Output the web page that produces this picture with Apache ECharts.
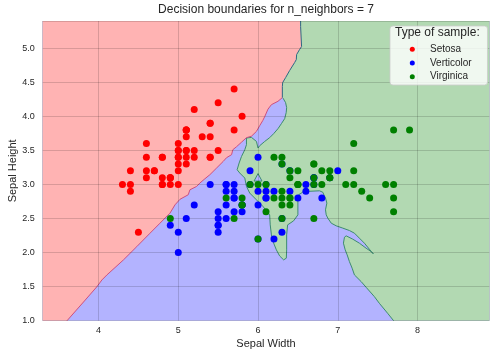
<!DOCTYPE html>
<html><head><meta charset="utf-8">
<script src="https://cdn.jsdelivr.net/npm/echarts@6/dist/echarts.min.js"></script>
<style>html,body{margin:0;padding:0;background:#fff}#c{width:495px;height:357px}</style>
</head><body><div id="c"></div>
<script>
// ---- data: iris sepal measurements [x = "Sepal Width" axis, y = "Sepal Height" axis]
const setosa = [[5.1,3.5],[4.9,3.0],[4.7,3.2],[4.6,3.1],[5.0,3.6],[5.4,3.9],[4.6,3.4],[5.0,3.4],[4.4,2.9],[4.9,3.1],[5.4,3.7],[4.8,3.4],[4.8,3.0],[4.3,3.0],[5.8,4.0],[5.7,4.4],[5.4,3.9],[5.1,3.5],[5.7,3.8],[5.1,3.8],[5.4,3.4],[5.1,3.7],[4.6,3.6],[5.1,3.3],[4.8,3.4],[5.0,3.0],[5.0,3.4],[5.2,3.5],[5.2,3.4],[4.7,3.2],[4.8,3.1],[5.4,3.4],[5.2,4.1],[5.5,4.2],[4.9,3.1],[5.0,3.2],[5.5,3.5],[4.9,3.1],[4.4,3.0],[5.1,3.4],[5.0,3.5],[4.5,2.3],[4.4,3.2],[5.0,3.5],[5.1,3.8],[4.8,3.0],[5.1,3.8],[4.6,3.2],[5.3,3.7],[5.0,3.3]];
const versicolor = [[7.0,3.2],[6.4,3.2],[6.9,3.1],[5.5,2.3],[6.5,2.8],[5.7,2.8],[6.3,3.3],[4.9,2.4],[6.6,2.9],[5.2,2.7],[5.0,2.0],[5.9,3.0],[6.0,2.2],[6.1,2.9],[5.6,2.9],[6.7,3.1],[5.6,3.0],[5.8,2.7],[6.2,2.2],[5.6,2.5],[5.9,3.2],[6.1,2.8],[6.3,2.5],[6.1,2.8],[6.4,2.9],[6.6,3.0],[6.8,2.8],[6.7,3.0],[6.0,2.9],[5.7,2.6],[5.5,2.4],[5.5,2.4],[5.8,2.7],[6.0,2.7],[5.4,3.0],[6.0,3.4],[6.7,3.1],[6.3,2.3],[5.6,3.0],[5.5,2.5],[5.5,2.6],[6.1,3.0],[5.8,2.6],[5.0,2.3],[5.6,2.7],[5.7,3.0],[5.7,2.9],[6.2,2.9],[5.1,2.5],[5.7,2.8]];
const virginica = [[6.3,3.3],[5.8,2.7],[7.1,3.0],[6.3,2.9],[6.5,3.0],[7.6,3.0],[4.9,2.5],[7.3,2.9],[6.7,2.5],[7.2,3.6],[6.5,3.2],[6.4,2.7],[6.8,3.0],[5.7,2.5],[5.8,2.8],[6.4,3.2],[6.5,3.0],[7.7,3.8],[7.7,2.6],[6.0,2.2],[6.9,3.2],[5.6,2.8],[7.7,2.8],[6.3,2.7],[6.7,3.3],[7.2,3.2],[6.2,2.8],[6.1,3.0],[6.4,2.8],[7.2,3.0],[7.4,2.8],[7.9,3.8],[6.4,2.8],[6.3,2.8],[6.1,2.6],[7.7,3.0],[6.3,3.4],[6.4,3.1],[6.0,3.0],[6.9,3.1],[6.7,3.1],[6.9,3.1],[5.8,2.7],[6.8,3.2],[6.7,3.3],[6.7,3.0],[6.3,2.5],[6.5,3.0],[6.2,3.4],[5.9,3.0]];

// ---- axis ranges / ticks
const xRange = [3.3, 8.9];
const yRange = [1.0, 5.4];
const yStep = 0.5;
const classNames = ['Setosa', 'Verticolor', 'Virginica'];

// ---- decision boundaries (traced in data units)
const redGreenBoundary = [[6.534,5.4],[6.534,5.319],[6.546,5.025],[6.521,4.981],[6.484,4.907],[6.48,4.834],[6.459,4.79],[6.396,4.672],[6.346,4.569],[6.309,4.496],[6.305,4.437],[6.305,4.275]];
const redBlueBoundary = [[6.305,4.275],[6.25,4.221],[6.168,4.172],[6.125,4.106],[6.084,3.996],[6.059,3.937],[6.021,3.863],[5.98,3.779],[5.918,3.709],[5.855,3.687],[5.793,3.621],[5.73,3.554],[5.684,3.51],[5.668,3.437],[5.605,3.393],[5.563,3.338],[5.48,3.241],[5.396,3.143],[5.334,3.084],[5.271,3.021],[5.23,2.971],[5.146,2.922],[5.125,2.849],[5.021,2.782],[4.959,2.701],[4.896,2.579],[4.771,2.432],[4.646,2.285],[4.48,2.088],[4.313,1.893],[4.105,1.672],[4.043,1.599],[3.98,1.5],[3.834,1.304],[3.605,1.0]];
const greenBlueBoundary = [[7.7,1.0],[7.625,1.109],[7.521,1.256],[7.459,1.353],[7.355,1.491],[7.293,1.574],[7.209,1.672],[7.18,1.771],[7.146,1.868],[7.118,1.966],[7.093,2.04],[7.071,2.138],[7.084,2.226],[7.105,2.246],[7.188,2.197],[7.271,2.138],[7.355,2.065],[7.418,2.015],[7.446,1.981],[7.396,2.05],[7.334,2.138],[7.271,2.212],[7.209,2.285],[7.146,2.324],[7.063,2.359],[6.98,2.393],[6.918,2.432],[6.875,2.506],[6.855,2.554],[6.846,2.628],[6.863,2.726],[6.846,2.804],[6.834,2.824],[6.813,2.885],[6.771,2.907],[6.646,2.9],[6.559,2.885],[6.509,2.849],[6.5,2.8],[6.5,2.554],[6.446,2.466],[6.371,2.407],[6.359,2.26],[6.359,2.04],[6.355,1.918],[6.321,1.893],[6.271,1.951],[6.23,2.04],[6.188,2.162],[6.168,2.26],[6.153,2.407],[6.146,2.554],[6.063,2.676],[5.98,2.775],[5.896,2.874],[5.855,2.971],[5.834,3.094],[5.771,3.168],[5.738,3.216],[5.763,3.315],[5.793,3.412],[5.834,3.51],[5.855,3.584],[5.855,3.682],[5.918,3.691],[5.98,3.632],[6.0,3.535],[6.021,3.569],[6.084,3.632],[6.146,3.687],[6.196,3.746],[6.25,3.819],[6.293,3.893],[6.334,3.966],[6.353,4.054],[6.359,4.128],[6.346,4.201],[6.313,4.268]];
const blueIsland = [[6.0,3.16],[5.95,3.05],[6.05,3.05]];

const plotArea = [[xRange[0],yRange[0]],[xRange[1],yRange[0]],[xRange[1],yRange[1]],[xRange[0],yRange[1]]];
const redRegion = [[xRange[0],yRange[1]]].concat(redGreenBoundary, redBlueBoundary, [[xRange[0],yRange[0]]]);
const greenRegion = greenBlueBoundary.concat(redGreenBoundary.slice().reverse(), [[xRange[1],yRange[1]],[xRange[1],yRange[0]]]);

const FONT = 'Liberation Sans, Arial, Helvetica, sans-serif';
const TXT = '#262626';

function fillSeries(pts, fill, z) {
  return { type:'custom', silent:true, z, animation:false, data: pts,
    renderItem(params, api) {
      if (params.dataIndex !== 0) return null;
      return { type:'polygon', shape:{ points: pts.map(p => api.coord(p)) }, style:{ fill } };
    } };
}
function lineSeries(pts, stroke, z, closed) {
  return { type:'custom', silent:true, z, animation:false, data: pts,
    renderItem(params, api) {
      if (params.dataIndex !== 0) return null;
      return { type: closed ? 'polygon' : 'polyline', shape:{ points: pts.map(p => api.coord(p)) },
        style:{ fill: null, stroke, lineWidth: 1 } };
    } };
}
function scatter(name, data, color) {
  return { type:'scatter', name, data, z:7, symbol:'circle', symbolSize:7, animation:false,
    itemStyle:{ color, opacity:1 }, emphasis:{ disabled:true } };
}

const chart = echarts.init(document.getElementById('c'), null, { renderer:'canvas' });
chart.setOption({
  animation:false,
  textStyle:{ fontFamily: FONT },
  title:[
    { text:'Decision boundaries for n_neighbors = 7', left:266, textAlign:'center', top:4, padding:0,
      textStyle:{ fontFamily:FONT, fontSize:12, fontWeight:'normal', color:TXT } },
    { text:'Type of sample:', left:395, top:27, padding:0, z:12,
      textStyle:{ fontFamily:FONT, fontSize:12, fontWeight:'normal', color:TXT } }
  ],
  legend:{
    data: classNames, orient:'vertical', left:390, top:26, z:10,
    padding:[17.3,15.8,2.3,19.8], itemGap:1.7, itemWidth:5, itemHeight:5, icon:'circle',
    selectedMode:false, backgroundColor:'rgba(255,255,255,0.8)', borderColor:'rgba(204,204,204,0.8)',
    borderWidth:1, borderRadius:3,
    textStyle:{ fontFamily:FONT, fontSize:10, color:TXT, lineHeight:12, padding:[0,0,0,10.2] }
  },
  grid:{ left:42.7, right:5.7, top:21, bottom:36.3, containLabel:false, outerBoundsMode:'none' },
  xAxis:{
    type:'value', min:xRange[0], max:xRange[1], z:6,
    name:'Sepal Width', nameLocation:'middle', nameGap:18, nameMoveOverlap:false,
    nameTextStyle:{ fontFamily:FONT, fontSize:11, color:TXT },
    axisLine:{ show:false }, axisTick:{ show:false },
    splitLine:{ show:true, lineStyle:{ color:'rgba(0,0,0,0.15)', width:1 } },
    axisLabel:{ fontFamily:FONT, fontSize:9, color:TXT, margin:5, showMinLabel:false, showMaxLabel:false,
      formatter: v => Number.isInteger(Math.round(v*1000)/1000) ? String(Math.round(v)) : '' }
  },
  yAxis:{
    type:'value', min:yRange[0], max:yRange[1], interval:yStep, z:6,
    name:'Sepal Height', nameLocation:'middle', nameGap:24, nameMoveOverlap:false,
    nameTextStyle:{ fontFamily:FONT, fontSize:11, color:TXT },
    axisLine:{ show:false }, axisTick:{ show:false },
    splitLine:{ show:true, lineStyle:{ color:'rgba(0,0,0,0.15)', width:1 } },
    axisLabel:{ fontFamily:FONT, fontSize:9, color:TXT, margin:8, showMaxLabel:false,
      formatter: v => v.toFixed(1) }
  },
  series:[
    fillSeries(plotArea, '#b3b3ff', 1),
    fillSeries(greenRegion, '#b2d9b2', 2),
    fillSeries(blueIsland, '#b3b3ff', 3),
    fillSeries(redRegion, '#ffb3b3', 4),
    lineSeries(greenBlueBoundary, '#3d8c70', 5, false),
    lineSeries(blueIsland, '#3d8c70', 5, true),
    lineSeries(redBlueBoundary, '#cc5080', 5, false),
    lineSeries(redGreenBoundary, '#2f6a80', 5, false),
    scatter(classNames[0], setosa, '#ff0000'),
    scatter(classNames[1], versicolor, '#0000ff'),
    scatter(classNames[2], virginica, '#008000')
  ]
});
</script></body></html>
